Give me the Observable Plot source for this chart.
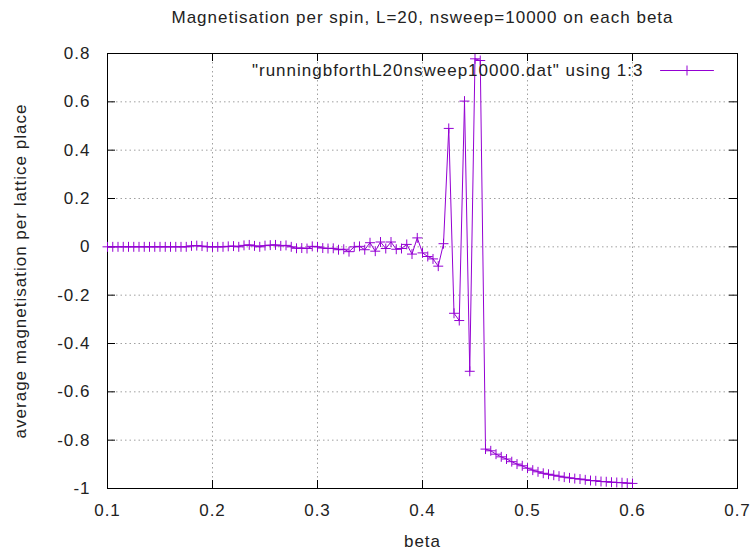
<!DOCTYPE html>
<html><head><meta charset="utf-8">
<script src="https://cdn.jsdelivr.net/npm/d3@7"></script>
<script src="https://cdn.jsdelivr.net/npm/@observablehq/plot@0.6"></script>
<style>body{margin:0;background:#fff}</style>
</head><body><div id="chart"></div>
<script>
const titleText = "Magnetisation per spin, L=20, nsweep=10000 on each beta";
const xLabel = "beta";
const yLabel = "average magnetisation per lattice place";
const legendText = "\"runningbforthL20nsweep10000.dat\" using 1:3";
const lineColor = "#9400d3";

const xTicks = [0.1, 0.2, 0.3, 0.4, 0.5, 0.6, 0.7];
const xTickLabels = ["0.1", "0.2", "0.3", "0.4", "0.5", "0.6", "0.7"];
const yTicks = [0.8, 0.6, 0.4, 0.2, 0, -0.2, -0.4, -0.6, -0.8, -1];
const yTickLabels = ["0.8", "0.6", "0.4", "0.2", "0", "-0.2", "-0.4", "-0.6", "-0.8", "-1"];

const betas = [
  0.1,0.105,0.11,0.115,0.12,0.125,0.13,0.135,0.14,0.145,
  0.15,0.155,0.16,0.165,0.17,0.175,0.18,0.185,0.19,0.195,
  0.2,0.205,0.21,0.215,0.22,0.225,0.23,0.235,0.24,0.245,
  0.25,0.255,0.26,0.265,0.27,0.275,0.28,0.285,0.29,0.295,
  0.3,0.305,0.31,0.315,0.32,0.325,0.33,0.335,0.34,0.345,
  0.35,0.355,0.36,0.365,0.37,0.375,0.38,0.385,0.39,0.395,
  0.4,0.405,0.41,0.415,0.42,0.425,0.43,0.435,0.44,0.445,
  0.45,0.455,0.46,0.465,0.47,0.475,0.48,0.485,0.49,0.495,
  0.5,0.505,0.51,0.515,0.52,0.525,0.53,0.535,0.54,0.545,
  0.55,0.555,0.56,0.565,0.57,0.575,0.58,0.585,0.59,0.595,
  0.6
];
const magnetisation = [
  0,0,0,0,0,0,0,0,0,0,
  0,0,0,0,0,0,0.004,0.005,0.003,0,
  0,0,0,0.002,0.003,0,0.006,0.008,0.004,0,
  0.005,0.007,0.008,0.004,0.006,0,-0.006,-0.005,-0.007,0.002,
  0,-0.005,-0.007,-0.006,-0.012,-0.01,-0.02,0,0.002,-0.012,
  0.017,-0.018,0.02,-0.007,0.02,-0.01,-0.007,0.01,-0.03,0.037,
  -0.025,-0.04,-0.05,-0.08,0.013,0.49,-0.275,-0.305,0.603,-0.515,
  0.778,0.771,-0.837,-0.844,-0.858,-0.869,-0.878,-0.889,-0.899,-0.906,
  -0.916,-0.924,-0.931,-0.937,-0.941,-0.945,-0.949,-0.953,-0.956,-0.959,
  -0.961,-0.964,-0.967,-0.968,-0.971,-0.972,-0.974,-0.975,-0.976,-0.978,
  -0.979
];

const data = betas.map((b, i) => ({beta: b, m: magnetisation[i]}));
const xLabelMap = new Map(xTicks.map((t, i) => [t, xTickLabels[i]]));
const yLabelMap = new Map(yTicks.map((t, i) => [t, yTickLabels[i]]));

const W = 750, H = 553, ML = 107, MR = 13, MT = 53, MB = 65;
const PW = W - ML - MR, PH = H - MT - MB;
const TICK = 8;
const gridStyle = {stroke: "#a0a0a0", strokeWidth: 1, strokeDasharray: "1.5,3"};
const lineShape = {draw(ctx, l) { ctx.moveTo(0, 0); ctx.lineTo(0, -l); }};

const chart = Plot.plot({
  width: W, height: H,
  marginLeft: ML, marginRight: MR, marginTop: MT, marginBottom: MB,
  style: {fontFamily: '"Liberation Sans", Arial, sans-serif', fontSize: "17px", letterSpacing: "1px", color: "#222", background: "#fff"},
  x: {domain: [0.1, 0.7]},
  y: {domain: [-1, 0.8]},
  marks: [
    Plot.ruleX(xTicks.slice(1, -1), {x: d => d, ...gridStyle}),
    Plot.ruleY(yTicks.slice(1, -1), {y: d => d, ...gridStyle}),
    Plot.tickX(xTicks, {x: d => d, insetTop: PH - TICK, stroke: "#000"}),
    Plot.tickX(xTicks, {x: d => d, insetBottom: PH - TICK, stroke: "#000"}),
    Plot.tickY(yTicks, {y: d => d, insetRight: PW - TICK, stroke: "#000"}),
    Plot.tickY(yTicks, {y: d => d, insetLeft: PW - TICK, stroke: "#000"}),
    Plot.axisX(xTicks, {tickSize: 0, tickPadding: 15, tickFormat: d => xLabelMap.get(d), label: null}),
    Plot.axisY(yTicks, {tickSize: 0, tickPadding: 17, tickFormat: d => yLabelMap.get(d), label: null}),
    Plot.frame({stroke: "#000"}),
    Plot.line(data, {x: "beta", y: "m", stroke: lineColor, strokeWidth: 1}),
    Plot.dot(data, {x: "beta", y: "m", symbol: "plus", r: 3.3, stroke: lineColor, strokeWidth: 1}),
    // legend
    Plot.text([legendText], {frameAnchor: "top-right", text: d => d, textAnchor: "end", lineAnchor: "middle", dx: -94, dy: 17, fill: "#222"}),
    Plot.vector([legendText], {frameAnchor: "top-right", dx: -77, dy: 17, anchor: "start", rotate: 90, length: 53, shape: lineShape, stroke: lineColor, strokeWidth: 1}),
    Plot.dot([legendText], {frameAnchor: "top-right", dx: -50.5, dy: 17, symbol: "plus", r: 3.3, stroke: lineColor, strokeWidth: 1}),
    // title and axis labels
    Plot.text([titleText], {frameAnchor: "top", text: d => d, textAnchor: "middle", lineAnchor: "middle", dy: -36, fill: "#222"}),
    Plot.text([xLabel], {frameAnchor: "bottom", text: d => d, textAnchor: "middle", lineAnchor: "middle", dy: 53, fill: "#222"}),
    Plot.text([yLabel], {frameAnchor: "left", text: d => d, textAnchor: "middle", lineAnchor: "middle", rotate: -90, dx: -87, fill: "#222"})
  ]
});
document.getElementById("chart").appendChild(chart);
</script>
</body></html>
